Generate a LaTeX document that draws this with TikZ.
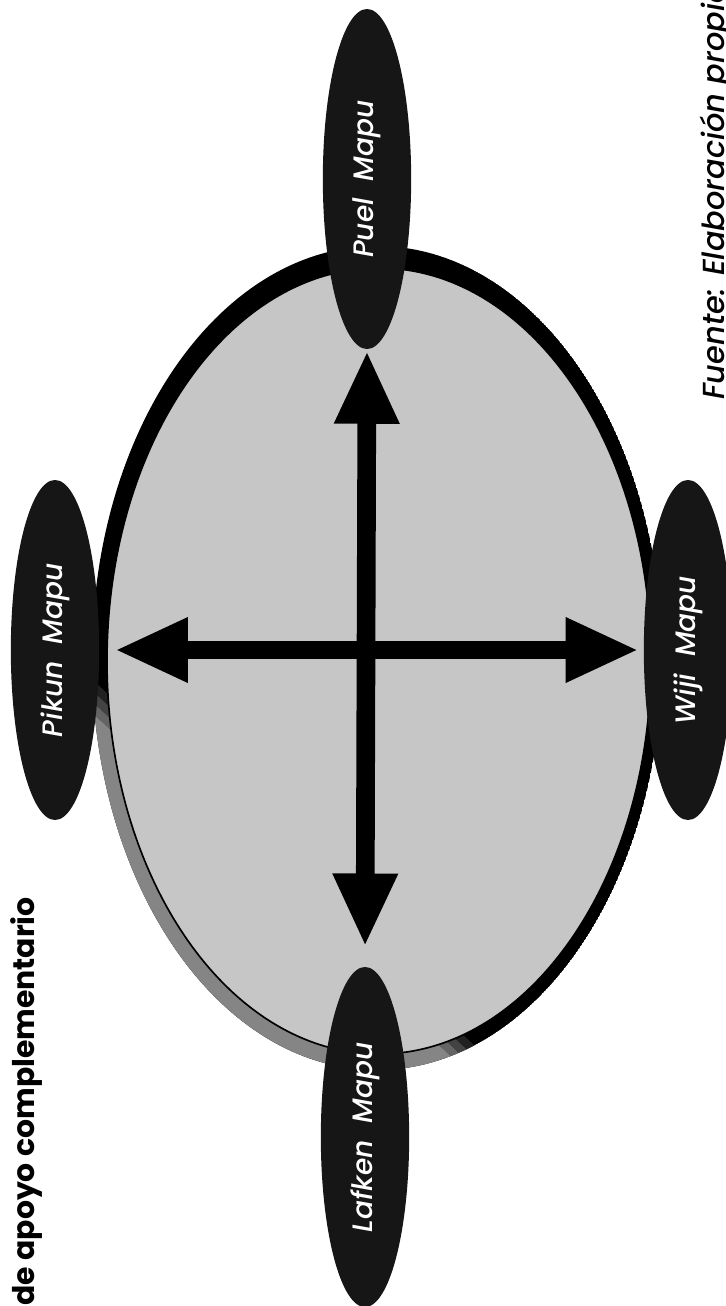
\documentclass[tikz,border=0pt]{standalone}
\usepackage{fontspec}
\setmainfont{Poppins}
\newfontfamily\labfont{Poppins Medium Italic}
\usetikzlibrary{arrows.meta,shapes.geometric}
\definecolor{face}{HTML}{C6C6C6}
\definecolor{blob}{HTML}{161616}
\definecolor{edgegray}{HTML}{858585}
\begin{document}
\begin{tikzpicture}[x=0.03cm,y=-0.03cm,
  region/.style={ellipse, fill=blob, rotate=90, minimum width=10.2cm, minimum height=2.65cm,
    inner sep=0pt, text=white, font=\fontsize{24}{26}\labfont},
  arr/.style={line width=0.56cm, {Triangle[length=2.2cm,width=1.8cm]}-{Triangle[length=2.2cm,width=1.8cm]}}]
\useasboundingbox (0,0) rectangle (726,1306);
% disk with 3D edge
\begin{scope}
  \clip (377,658) ellipse [x radius=285, y radius=412];
  \fill[black] (377,658) ellipse [x radius=285, y radius=412];
  \begin{scope}[shift={(95,715)}, rotate=-43.8]
    \fill[edgegray] (-1000,0) rectangle (1000,1000);
    \fill[edgegray!75!black] (-1000,-8) rectangle (1000,0);
    \fill[edgegray!50!black] (-1000,-16) rectangle (1000,-8);
    \fill[edgegray!25!black] (-1000,-24) rectangle (1000,-16);
  \end{scope}
\end{scope}
\fill[face, draw=black, line width=0.05cm] (379,661) ellipse [x radius=272, y radius=393];
% regions
\node[region] (puel) at (367,179) {Puel\ \ Mapu};
\node[region] (lafken) at (365,1137) {Lafken\ \ Mapu};
\node[region] (pikun) at (55,650) {Pikun\ \ Mapu};
\node[region] (wiji) at (688,650) {Wiji\ \ Mapu};
% arrows
\draw[arr, shorten <=1, shorten >=17] (puel.west) -- (lafken.east);
\draw[arr, shorten <=13, shorten >=4] (pikun.south) -- (wiji.north);
% texts
\node[rotate=90, anchor=base east, inner sep=0pt, font=\fontsize{25.5}{28}\selectfont\bfseries] (title) at (34,897) {de apoyo complementario};
\node[rotate=90, anchor=base west, inner sep=0pt, font=\fontsize{26}{28}\labfont] (fuente) at (724,400) {Fuente: Elaboración propia};
\end{tikzpicture}
\end{document}
